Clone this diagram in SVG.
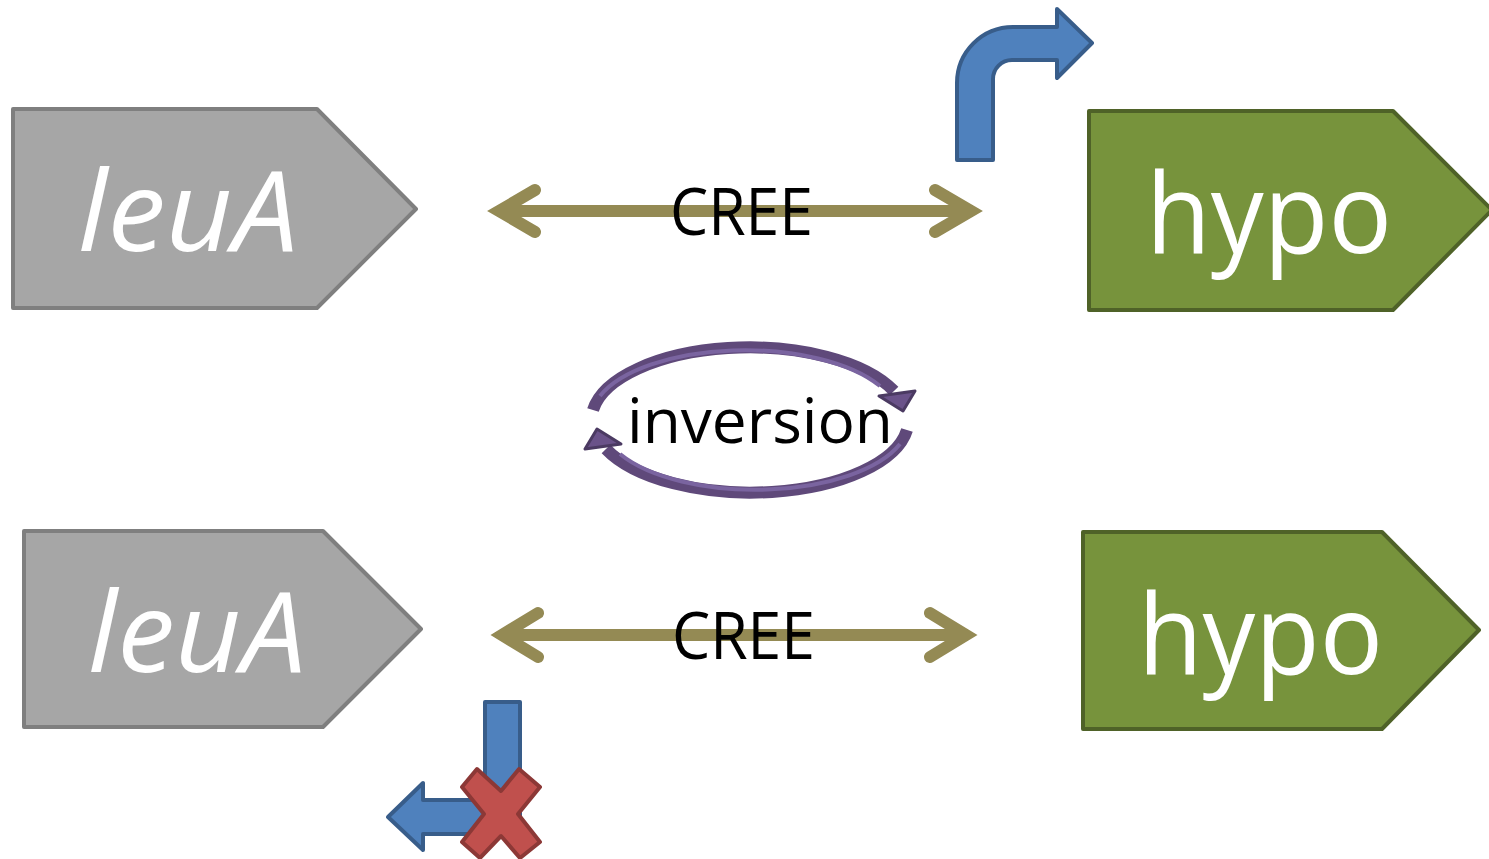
<svg xmlns="http://www.w3.org/2000/svg" width="1489" height="859" viewBox="0 0 1489 859">
<style>
.leu{fill:#a6a6a6;stroke:#7f7f7f;stroke-width:4;stroke-linejoin:round}
.hyp{fill:#77933c;stroke:#4f6228;stroke-width:4;stroke-linejoin:round}
.gene{font-family:"Open Sans","Liberation Sans",sans-serif;fill:#ffffff;font-size:112px}
.lbl{font-family:"Open Sans","Liberation Sans",sans-serif;fill:#000000}
.cree{fill:none;stroke:#948a54;stroke-width:12;stroke-linecap:round;stroke-linejoin:miter}
.blue{fill:#4f81bd;stroke:#385d8a;stroke-width:4;stroke-linejoin:round}
.inv{fill:none;stroke:#5f497a;stroke-width:12}
.invhl{fill:none;stroke:#7a64a0;stroke-width:4}
.invhead{fill:#6a5289;stroke:#4b3a62;stroke-width:3;stroke-linejoin:round}
</style>
<rect width="1489" height="859" fill="#ffffff"/>
<g id="leuA-top">
<path class="leu" d="M13,109 L317,109 L416,209 L317,308 L13,308 Z"/>
<text class="gene" x="78" y="251" font-style="italic" textLength="220" lengthAdjust="spacingAndGlyphs">leuA</text>
</g>
<g id="hypo-top">
<path class="hyp" d="M1089,111 L1393,111 L1492,210 L1393,310 L1089,310 Z"/>
<text class="gene" x="1146" y="253" textLength="246" lengthAdjust="spacingAndGlyphs">hypo</text>
</g>
<g id="leuA-bottom">
<path class="leu" d="M24,531 L323,531 L421,629 L323,727 L24,727 Z"/>
<text class="gene" x="88" y="672" font-style="italic" textLength="218" lengthAdjust="spacingAndGlyphs">leuA</text>
</g>
<g id="hypo-bottom">
<path class="hyp" d="M1083,532 L1382,532 L1479,630 L1382,729 L1083,729 Z"/>
<text class="gene" x="1138" y="674" textLength="245" lengthAdjust="spacingAndGlyphs">hypo</text>
</g>
<g id="promoter-top">
<path class="blue" d="M957,160 L957,83 A56,56 0 0 1 1013,27 L1057,27 L1057,9 L1092,43 L1057,78 L1057,60 L1012,60 A19,19 0 0 0 993,79 L993,160 Z"/>
</g>
<g id="promoter-bottom">
<path class="blue" d="M485,702 L520,702 L520,834 L423,834 L423,850 L388,817 L423,783 L423,800 L485,800 Z"/>
<path fill="#c0504d" stroke="#8c3836" stroke-width="4" stroke-linejoin="round" d="M462,787 L477,769 L501,791 L519,769 L540,787 L518,814 L540,842 L520,858 L501,836 L480,858 L462,842 L484,814 Z"/>
</g>
<g id="inversion">
<path class="inv" d="M593,410 A158,73 0 0 1 894,391"/>
<path class="invhl" d="M600,396 A154,69 0 0 1 880,386"/>
<path class="invhead" d="M879,396 L915,391 L903,411 Z"/>
<path class="inv" d="M907,430 A158,73 0 0 1 606,449"/>
<path class="invhl" d="M900,444 A154,69 0 0 1 620,454"/>
<path class="invhead" d="M621,444 L585,449 L597,429 Z"/>
<text class="lbl" x="627" y="443" font-size="62" textLength="266" lengthAdjust="spacingAndGlyphs">inversion</text>
</g>
<g id="connectors">
<path class="cree" d="M505,211 L965,211 M535,190 L499,211 L535,232 M935,190 L971,211 L935,232"/>
<text class="lbl" x="670" y="235" font-size="66" textLength="143" lengthAdjust="spacingAndGlyphs">CREE</text>
<path class="cree" d="M508,635 L960,635 M538,613 L502,635 L538,657 M930,613 L966,635 L930,657"/>
<text class="lbl" x="672" y="659" font-size="66" textLength="143" lengthAdjust="spacingAndGlyphs">CREE</text>
</g>
</svg>
